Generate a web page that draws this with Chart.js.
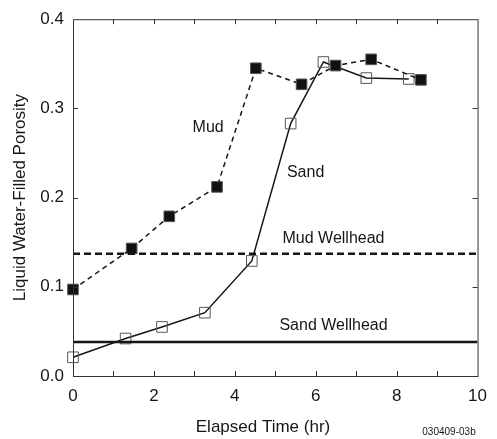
<!DOCTYPE html>
<html>
<head>
<meta charset="utf-8">
<script src="https://cdn.jsdelivr.net/npm/chart.js@4.4.0/dist/chart.umd.min.js"></script>
<style>
  html, body { margin: 0; padding: 0; background: #fff; }
  canvas { display: block; }
</style>
</head>
<body>
<canvas id="porosityChart" width="497" height="439"></canvas>
<script>
// values
const mudTime = [0, 1.45, 2.38, 3.56, 4.52, 5.65, 6.49, 7.37, 8.6];
const mudPorosity = [0.097, 0.143, 0.179, 0.212, 0.345, 0.327, 0.348, 0.355, 0.332];
const sandTime = [0, 1.3, 2.2, 3.26, 4.42, 5.38, 6.19, 7.25, 8.3];
const sandPorosity = [0.021, 0.042, 0.055, 0.071, 0.129, 0.283, 0.352, 0.334, 0.333];
const wellheadTime = [0, 10];
const mudWellhead = 0.137;
const sandWellhead = 0.038;
const yTicks = [0, 0.1, 0.2, 0.3, 0.4];
const xTicks = [0, 2, 4, 6, 8, 10];

// text placed in data units
const notes = [
  { text: 'Mud', x: 3.34, y: 0.278 },
  { text: 'Sand', x: 5.75, y: 0.228 },
  { text: 'Mud Wellhead', x: 6.44, y: 0.154 },
  { text: 'Sand Wellhead', x: 6.44, y: 0.056 },
];

const ink = '#161616';
const font = 'Liberation Sans, Arial, Helvetica, sans-serif';

function toPoints(xs, ys) {
  return xs.map((x, i) => ({ x: x, y: ys[i] }));
}

// frame, inward ticks and the text labels
const framePlugin = {
  id: 'frame',
  afterDraw(chart) {
    const ctx = chart.ctx;
    const a = chart.chartArea;
    const xs = chart.scales.x;
    const ys = chart.scales.y;
    ctx.save();
    ctx.strokeStyle = '#333';
    ctx.lineWidth = 1;
    ctx.strokeRect(a.left + 0.5, a.top + 0.5, a.right - a.left, a.bottom - a.top);

    ctx.beginPath();
    for (let v = 1; v < 10; v++) {
      const px = Math.round(xs.getPixelForValue(v)) + 0.5;
      ctx.moveTo(px, a.bottom); ctx.lineTo(px, a.bottom - 5);
      ctx.moveTo(px, a.top); ctx.lineTo(px, a.top + 5);
    }
    yTicks.slice(1, -1).forEach(v => {
      const py = Math.round(ys.getPixelForValue(v)) + 0.5;
      ctx.moveTo(a.left, py); ctx.lineTo(a.left + 5, py);
      ctx.moveTo(a.right, py); ctx.lineTo(a.right - 5, py);
    });
    ctx.stroke();

    ctx.fillStyle = ink;
    ctx.textAlign = 'center';
    ctx.textBaseline = 'middle';
    ctx.font = '16px ' + font;
    notes.forEach(n => {
      ctx.fillText(n.text, xs.getPixelForValue(n.x), ys.getPixelForValue(n.y));
    });

    // axis titles
    ctx.font = '17px ' + font;
    ctx.fillText('Elapsed Time (hr)', 263, 427);
    ctx.save();
    ctx.translate(20, (a.top + a.bottom) / 2);
    ctx.rotate(-Math.PI / 2);
    ctx.fillText('Liquid Water-Filled Porosity', 0, 0);
    ctx.restore();

    ctx.font = '10px ' + font;
    ctx.fillText('030409-03b', 449, 432);
    ctx.restore();
  }
};

const ctx = document.getElementById('porosityChart').getContext('2d');
new Chart(ctx, {
  type: 'scatter',
  data: {
    datasets: [
      {
        label: 'Mud Wellhead',
        data: toPoints(wellheadTime, [mudWellhead, mudWellhead]),
        showLine: true,
        borderColor: ink,
        borderWidth: 2.5,
        borderDash: [7, 4],
        pointRadius: 0,
      },
      {
        label: 'Sand Wellhead',
        data: toPoints(wellheadTime, [sandWellhead, sandWellhead]),
        showLine: true,
        borderColor: ink,
        borderWidth: 2.5,
        pointRadius: 0,
      },
      {
        label: 'Mud',
        data: toPoints(mudTime, mudPorosity),
        showLine: true,
        clip: false,
        borderColor: ink,
        borderWidth: 1.5,
        borderDash: [5, 4],
        pointStyle: 'rect',
        pointRadius: 7.5,
        pointBackgroundColor: '#111',
        pointBorderColor: '#555',
        pointBorderWidth: 1,
      },
      {
        label: 'Sand',
        data: toPoints(sandTime, sandPorosity),
        showLine: true,
        clip: false,
        borderColor: ink,
        borderWidth: 1.5,
        pointStyle: 'rect',
        pointRadius: 7.5,
        pointBackgroundColor: 'rgba(0,0,0,0)',
        pointBorderColor: '#555',
        pointBorderWidth: 1,
      },
    ],
  },
  options: {
    responsive: false,
    animation: false,
    layout: { padding: { top: 13, right: 17, left: 0, bottom: 0 } },
    plugins: {
      legend: { display: false },
      tooltip: { enabled: false },
    },
    scales: {
      x: {
        type: 'linear',
        min: 0,
        max: 10,
        afterFit(scale) { scale.height = 63; },
        afterBuildTicks(scale) { scale.ticks = xTicks.map(v => ({ value: v })); },
        grid: { display: false, drawTicks: false },
        border: { display: false },
        ticks: {
          color: ink,
          padding: 10,
          font: { family: font, size: 17 },
          callback: v => String(v),
        },
      },
      y: {
        type: 'linear',
        min: 0,
        max: 0.4,
        afterFit(scale) { scale.width = 73; },
        afterBuildTicks(scale) { scale.ticks = yTicks.map(v => ({ value: v })); },
        grid: { display: false, drawTicks: false },
        border: { display: false },
        ticks: {
          color: ink,
          padding: 9,
          font: { family: font, size: 17 },
          callback: v => v.toFixed(1),
        },
      },
    },
  },
  plugins: [framePlugin],
});
</script>
</body>
</html>
